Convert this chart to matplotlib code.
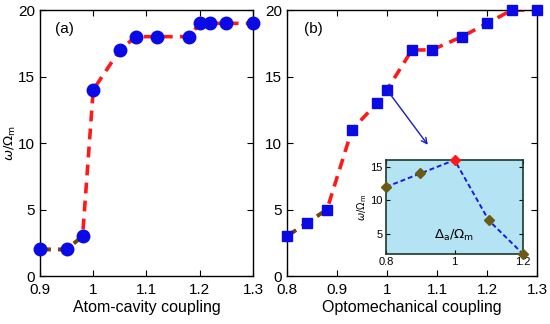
import matplotlib
matplotlib.use("Agg")
import matplotlib.pyplot as plt

plt.rcParams['font.family'] = ['Liberation Sans', 'DejaVu Sans']
plt.rcParams['mathtext.fontset'] = 'dejavusans'

# Panel (a): atom-cavity coupling
xa = [0.9, 0.95, 0.98, 1.0, 1.05, 1.08, 1.12, 1.18, 1.2, 1.22, 1.25, 1.3]
ya = [2, 2, 3, 14, 17, 18, 18, 18, 19, 19, 19, 19]

# Panel (b): optomechanical coupling
xb = [0.8, 0.84, 0.88, 0.93, 0.98, 1.0, 1.05, 1.09, 1.15, 1.2, 1.25, 1.3]
yb = [3, 4, 5, 11, 13, 14, 17, 17, 18, 19, 20, 20]

# Inset: detuning
xi = [0.8, 0.9, 1.0, 1.1, 1.2]
yi = [12, 14, 16, 7, 2]
peak_index = 2

fig = plt.figure(figsize=(5.5, 3.24), dpi=100)
axa = fig.add_axes([0.0727, 0.148, 0.3873, 0.821])
axb = fig.add_axes([0.5218, 0.148, 0.4545, 0.821])

red = '#ff1a1a'
brown = '#6b4a12'
blue = '#0a0ae6'

def style(ax):
    ax.tick_params(direction='in', top=True, right=True, labelsize=11, length=4)
    ax.tick_params(axis='x', pad=5)
    ax.tick_params(axis='y', pad=3.5)
    for s in ax.spines.values():
        s.set_linewidth(1.0)

# (a)
axa.plot(xa, ya, '--', color=red, lw=2.6, dashes=(3, 2), zorder=2)
axa.plot(xa[:3], ya[:3], '--', color=brown, lw=2.6, dashes=(3, 2), zorder=2)
axa.plot(xa, ya, 'o', color=blue, ms=9, zorder=3, clip_on=False)
axa.set_xlim(0.9, 1.3)
axa.set_ylim(0, 20)
axa.set_xticks([0.9, 1.0, 1.1, 1.2, 1.3])
axa.set_xticklabels(['0.9', '1', '1.1', '1.2', '1.3'])
axa.set_yticks([0, 5, 10, 15, 20])
axa.set_xlabel('Atom-cavity coupling', fontsize=11.5, labelpad=2)
axa.set_ylabel(r'$\omega/\Omega_{\rm m}$', fontsize=9.5)
axa.yaxis.set_label_coords(-0.105, 0.5)
axa.text(0.07, 0.955, '(a)', transform=axa.transAxes, fontsize=11, va='top', ha='left')
style(axa)

# (b)
axb.plot(xb, yb, '--', color=red, lw=2.6, dashes=(3, 2), zorder=2)
axb.plot(xb[:3], yb[:3], '--', color=brown, lw=2.6, dashes=(3, 2), zorder=2)
axb.plot(xb, yb, 's', color=blue, ms=7.5, zorder=3, clip_on=False)
axb.set_xlim(0.8, 1.3)
axb.set_ylim(0, 20)
axb.set_xticks([0.8, 0.9, 1.0, 1.1, 1.2, 1.3])
axb.set_xticklabels(['0.8', '0.9', '1', '1.1', '1.2', '1.3'])
axb.set_yticks([0, 5, 10, 15, 20])
axb.set_yticklabels(['0', '5', '10', '15', '20'])
axb.set_xlabel('Optomechanical coupling', fontsize=11.5, labelpad=2)
axb.text(0.07, 0.955, '(b)', transform=axb.transAxes, fontsize=11, va='top', ha='left')
style(axb)
axb.annotate('', xy=(1.085, 9.7), xytext=(xb[5], yb[5]),
             arrowprops=dict(arrowstyle='->', color='#1a1acc', lw=1.0))

# inset
axi = fig.add_axes([0.702, 0.216, 0.249, 0.290])
axi.set_facecolor('#b4e4f4')
axi.plot(xi, yi, '--', color='#1a1ad6', lw=1.4, dashes=(2.5, 1.5), zorder=2, clip_on=False)
for i, (x, y) in enumerate(zip(xi, yi)):
    c = red if i == peak_index else '#6b5a14'
    axi.plot([x], [y], 'D', color=c, ms=5.5, zorder=3, clip_on=False)
axi.set_xlim(0.8, 1.2)
axi.set_ylim(2, 16)
axi.set_xticks([0.8, 1.0, 1.2])
axi.set_xticklabels(['0.8', '1', '1.2'])
axi.set_yticks([5, 10, 15])
axi.tick_params(direction='in', labelsize=8, length=3, right=True, top=True, pad=2.5)
for s in axi.spines.values():
    s.set_linewidth(1.2)
    s.set_color('#1a3a2a')
axi.set_ylabel(r'$\omega/\Omega_{\rm m}$', fontsize=7, labelpad=1)
axi.text(0.5, 0.12, r'$\Delta_{\rm a}/\Omega_{\rm m}$', transform=axi.transAxes,
         fontsize=9.5, ha='center', va='bottom')

fig.savefig('out.png', dpi=100)
